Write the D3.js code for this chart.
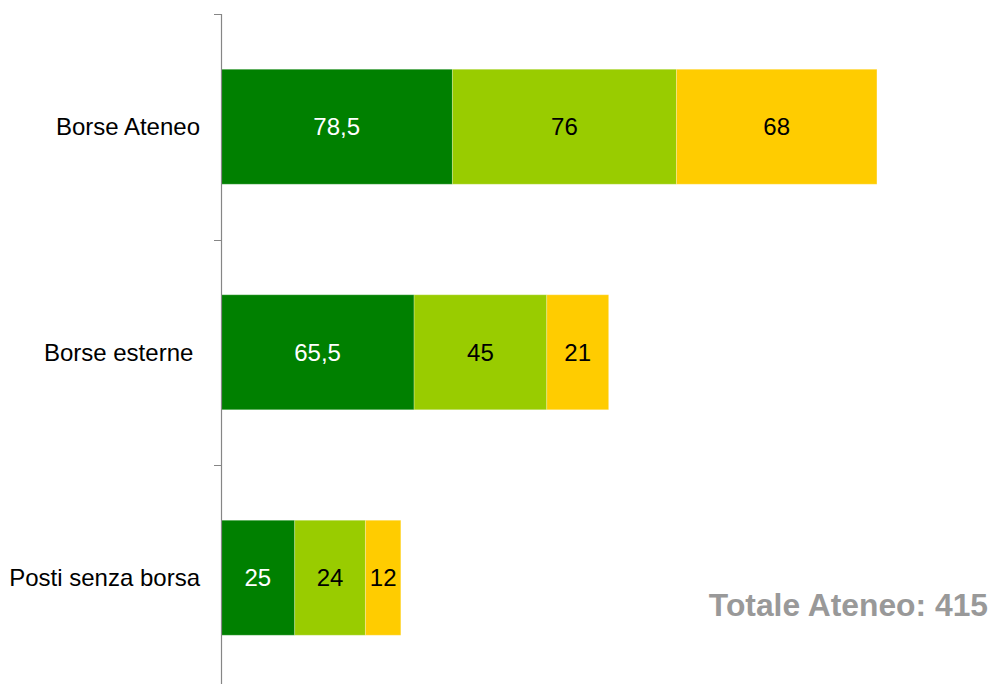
<!DOCTYPE html>
<html>
<head>
<meta charset="utf-8">
<script src="https://cdn.jsdelivr.net/npm/d3@7"></script>
<style>
  html, body { margin: 0; padding: 0; background: #fff; }
  svg { display: block; }
  text { font-family: "Liberation Sans", Arial, sans-serif; white-space: pre; }
</style>
</head>
<body>
<script>
const categories = ["Borse Ateneo", "Borse esterne ", "Posti senza borsa"];
const seriesNames = ["A", "B", "C"];
const seriesA = [78.5, 65.5, 25];
const seriesB = [76, 45, 24];
const seriesC = [68, 21, 12];
const seriesColors = ["#008000", "#99CC00", "#FFCC00"];
const labelColors = ["#ffffff", "#000000", "#000000"];
const totalLabel = "Totale Ateneo: 415";

const fmt = v => String(v).replace(".", ",");

const W = 993, H = 684;
const svg = d3.select("body").append("svg").attr("width", W).attr("height", H);

const y = d3.scaleBand().domain(categories).range([14, 690.5])
  .paddingInner(0.49).paddingOuter(0.245);
const x = d3.scaleLinear().domain([0, 250]).range([221, 958]);

const rows = categories.map((c, i) => ({ cat: c, A: seriesA[i], B: seriesB[i], C: seriesC[i] }));
const stack = d3.stack().keys(seriesNames)(rows);

const g = svg.append("g");
stack.forEach((layer, si) => {
  const lg = g.append("g");
  lg.selectAll("rect").data(layer).enter().append("rect")
    .attr("x", d => x(d[0]))
    .attr("y", d => y(d.data.cat))
    .attr("width", d => x(d[1]) - x(d[0]))
    .attr("height", y.bandwidth())
    .attr("fill", seriesColors[si])
    .attr("stroke", "rgba(255,255,255,0.25)")
    .attr("stroke-width", 1);
  lg.selectAll("text").data(layer).enter().append("text")
    .attr("x", d => (x(d[0]) + x(d[1])) / 2)
    .attr("y", d => y(d.data.cat) + y.bandwidth() / 2 + 8.7)
    .attr("text-anchor", "middle")
    .attr("font-size", "24px")
    .attr("fill", labelColors[si])
    .text(d => fmt(d[1] - d[0]));
});

// axis
const axisColor = "#868686";
const ag = svg.append("g");
ag.append("line").attr("x1", 221.5).attr("x2", 221.5).attr("y1", 14).attr("y2", 690.5)
  .attr("stroke", axisColor).attr("stroke-width", 1.2);
const bounds = [y.range()[0]].concat(categories.map(c => y(c) - y.step() * y.paddingInner() / 2 + y.step()));
ag.selectAll("line.tick").data(bounds).enter().append("line")
  .attr("class", "tick")
  .attr("x1", 214).attr("x2", 221.5)
  .attr("y1", d => Math.round(d) + 0.5).attr("y2", d => Math.round(d) + 0.5)
  .attr("stroke", axisColor).attr("stroke-width", 1);

ag.selectAll("text.cat").data(categories).enter().append("text")
  .attr("class", "cat")
  .attr("x", 200)
  .attr("y", d => y(d) + y.bandwidth() / 2 + 8.7)
  .attr("text-anchor", "end")
  .attr("font-size", "24px")
  .attr("fill", "#000")
  .text(d => d);

svg.append("text")
  .attr("x", 988).attr("y", 615.5)
  .attr("text-anchor", "end")
  .attr("font-size", "31.8px")
  .attr("font-weight", "bold")
  .attr("fill", "#999999")
  .text(totalLabel);
</script>
</body>
</html>
